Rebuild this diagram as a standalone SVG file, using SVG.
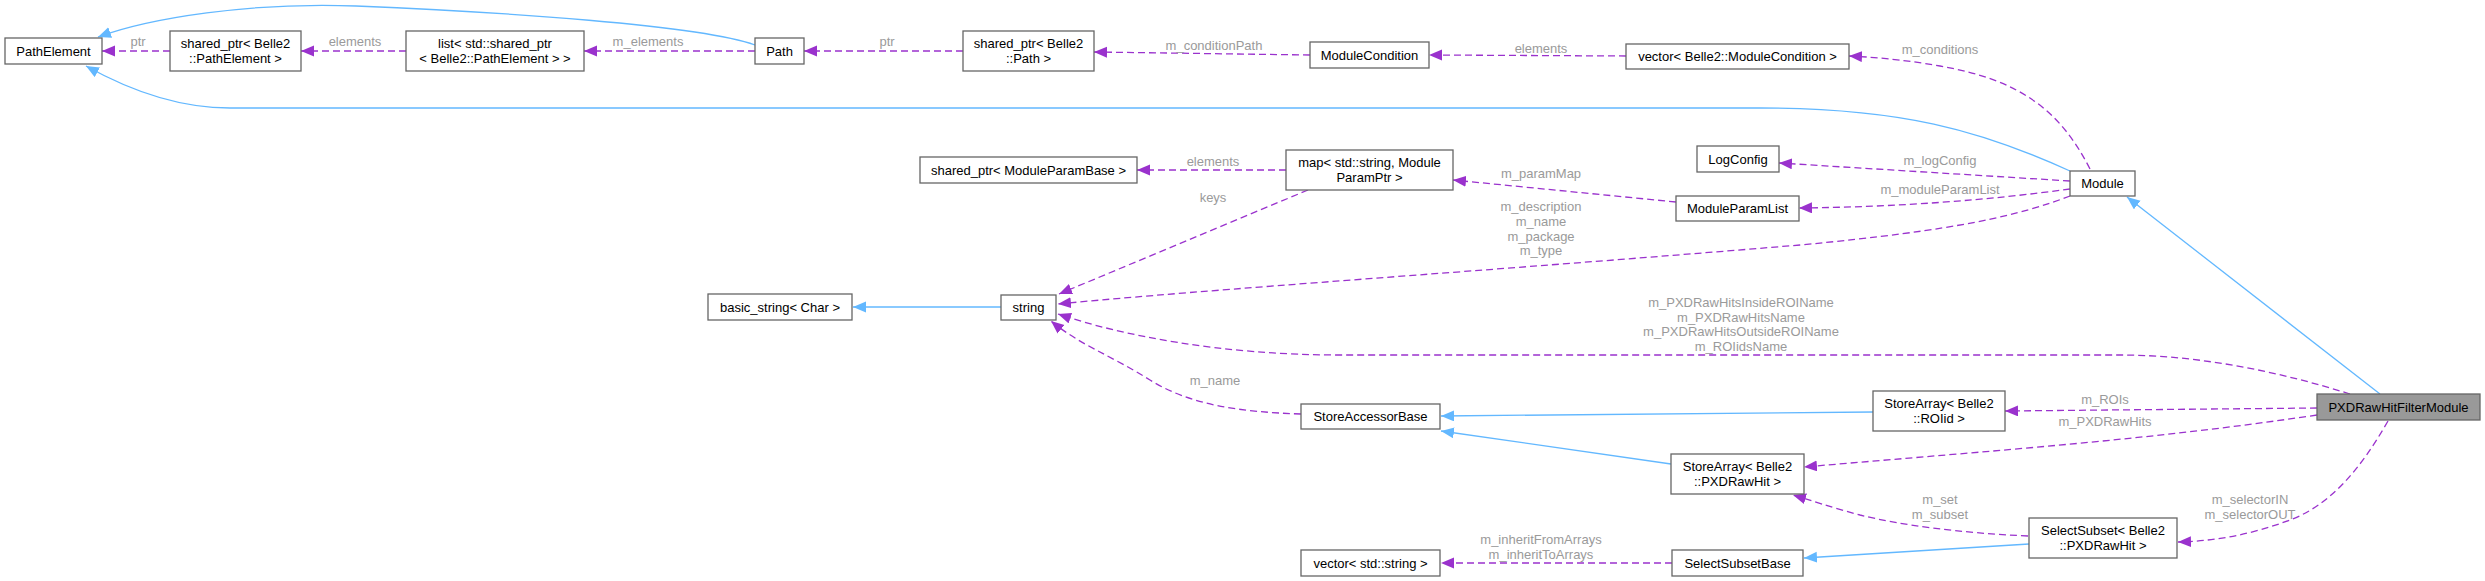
<svg xmlns="http://www.w3.org/2000/svg" width="2485" height="581" viewBox="0 0 2485 581">
<style>
.n rect{fill:#fff;stroke:#666;stroke-width:1.3}
.n text,.t{font-family:"Liberation Sans",Arial,sans-serif;font-size:13px;fill:#000;text-anchor:middle}
.l{font-family:"Liberation Sans",Arial,sans-serif;font-size:13px;fill:#9a9a9a;text-anchor:middle}
.b{fill:none;stroke:#63b8ff;stroke-width:1.3;marker-end:url(#ab)}
.p{fill:none;stroke:#9a32cd;stroke-width:1.3;stroke-dasharray:7,4;marker-end:url(#ap)}
</style>
<defs>
<marker id="ab" markerUnits="userSpaceOnUse" markerWidth="14" markerHeight="12" refX="13" refY="5.5" orient="auto"><path d="M0,0 L13,5.5 L0,11 Z" fill="#63b8ff"/></marker>
<marker id="ap" markerUnits="userSpaceOnUse" markerWidth="14" markerHeight="12" refX="13" refY="5.5" orient="auto"><path d="M0,0 L13,5.5 L0,11 Z" fill="#9a32cd"/></marker>
</defs>
<rect width="2485" height="581" fill="#fff"/>
<g id="edges">
<path class="b" d="M755,45 C700,25 500,12 356,6 C250,2 150,18 98,37"/>
<path class="b" d="M2070,171 C1980,130 1900,108 1760,108 L230,108 C170,108 120,85 86,66"/>
<path class="p" d="M170,51 L102,51"/><text class="l" x="138" y="46">ptr</text>
<path class="p" d="M406,51 L301,51"/><text class="l" x="355" y="46">elements</text>
<path class="p" d="M755,51 L584,51"/><text class="l" x="648" y="46">m_elements</text>
<path class="p" d="M963,51 L804,51"/><text class="l" x="887" y="46">ptr</text>
<path class="p" d="M1310,55 L1094,52"/><text class="l" x="1214" y="50">m_conditionPath</text>
<path class="p" d="M1626,56 L1429,55"/><text class="l" x="1541" y="53">elements</text>
<path class="p" d="M2090,169 C2060,110 2020,80 1940,66 C1900,59 1870,57 1849,56"/><text class="l" x="1940" y="54">m_conditions</text>
<path class="p" d="M2070,181 L1779,163"/><text class="l" x="1940" y="165">m_logConfig</text>
<path class="p" d="M2070,189 C1990,200 1900,207 1799,208"/><text class="l" x="1940" y="194">m_moduleParamList</text>
<path class="p" d="M1676,202 L1453,180"/><text class="l" x="1541" y="178">m_paramMap</text>
<path class="p" d="M1286,170 L1137,170"/><text class="l" x="1213" y="166">elements</text>
<path class="p" d="M1308,190 L1059,294"/><text class="l" x="1213" y="202">keys</text>
<path class="p" d="M2070,196 C2020,215 1960,230 1800,245 C1500,270 1200,290 1058,304"/>
<text class="l" x="1541" y="211">m_description</text><text class="l" x="1541" y="226">m_name</text><text class="l" x="1541" y="241">m_package</text><text class="l" x="1541" y="255">m_type</text>
<path class="p" d="M2350,394 C2280,372 2200,355 2120,355 L1340,355 C1220,355 1120,335 1058,314"/>
<text class="l" x="1741" y="307">m_PXDRawHitsInsideROIName</text><text class="l" x="1741" y="322">m_PXDRawHitsName</text><text class="l" x="1741" y="336">m_PXDRawHitsOutsideROIName</text><text class="l" x="1741" y="351">m_ROIidsName</text>
<path class="p" d="M1301,414 C1240,412 1190,405 1150,380 C1110,355 1080,345 1051,321"/><text class="l" x="1215" y="385">m_name</text>
<path class="b" d="M1873,412 L1441,416"/>
<path class="b" d="M1671,464 L1441,431"/>
<path class="p" d="M2317,408 L2005,411"/><text class="l" x="2105" y="404">m_ROIs</text>
<path class="p" d="M2317,415 C2150,440 2000,450 1804,467"/><text class="l" x="2105" y="426">m_PXDRawHits</text>
<path class="p" d="M2028,536 C1960,533 1900,525 1860,515 C1830,507 1810,500 1793,495"/><text class="l" x="1940" y="504">m_set</text><text class="l" x="1940" y="519">m_subset</text>
<path class="p" d="M2388,421 C2360,470 2330,505 2290,520 C2250,535 2215,541 2178,542"/><text class="l" x="2250" y="504">m_selectorIN</text><text class="l" x="2250" y="519">m_selectorOUT</text>
<path class="b" d="M2029,544 L1804,558"/>
<path class="p" d="M1672,563 L1441,563"/><text class="l" x="1541" y="544">m_inheritFromArrays</text><text class="l" x="1541" y="559">m_inheritToArrays</text>
<path class="b" d="M1001,307 L853,307"/>
<path class="b" d="M2380,394 L2127,197"/>
</g>
<g id="PathElement" class="n"><rect x="5" y="38" width="97" height="26"/><text x="53.5" y="56">PathElement</text></g>
<g id="SharedPtrPathElement" class="n"><rect x="170" y="31" width="131" height="40"/><text x="235.5" y="48">shared_ptr&lt; Belle2</text><text x="235.5" y="63">::PathElement &gt;</text></g>
<g id="ListSharedPtr" class="n"><rect x="406" y="31" width="178" height="40"/><text x="495" y="48">list&lt; std::shared_ptr</text><text x="495" y="63">&lt; Belle2::PathElement &gt; &gt;</text></g>
<g id="Path" class="n"><rect x="755" y="38" width="49" height="26"/><text x="779.5" y="56">Path</text></g>
<g id="SharedPtrPath" class="n"><rect x="963" y="31" width="131" height="40"/><text x="1028.5" y="48">shared_ptr&lt; Belle2</text><text x="1028.5" y="63">::Path &gt;</text></g>
<g id="ModuleCondition" class="n"><rect x="1310" y="42" width="119" height="26"/><text x="1369.5" y="60">ModuleCondition</text></g>
<g id="VectorModuleCondition" class="n"><rect x="1626" y="44" width="223" height="25"/><text x="1737.5" y="61">vector&lt; Belle2::ModuleCondition &gt;</text></g>
<g id="LogConfig" class="n"><rect x="1697" y="146" width="82" height="26"/><text x="1738" y="164">LogConfig</text></g>
<g id="ModuleParamList" class="n"><rect x="1676" y="196" width="123" height="25"/><text x="1737.5" y="213">ModuleParamList</text></g>
<g id="MapParam" class="n"><rect x="1286" y="150" width="167" height="40"/><text x="1369.5" y="167">map&lt; std::string, Module</text><text x="1369.5" y="182">ParamPtr &gt;</text></g>
<g id="SharedPtrModuleParamBase" class="n"><rect x="920" y="157" width="217" height="26"/><text x="1028.5" y="175">shared_ptr&lt; ModuleParamBase &gt;</text></g>
<g id="Module" class="n"><rect x="2070" y="171" width="65" height="25"/><text x="2102.5" y="188">Module</text></g>
<g id="string" class="n"><rect x="1001" y="295" width="55" height="25"/><text x="1028.5" y="312">string</text></g>
<g id="BasicString" class="n"><rect x="708" y="294" width="144" height="26"/><text x="780" y="312">basic_string&lt; Char &gt;</text></g>
<g id="StoreAccessorBase" class="n"><rect x="1301" y="404" width="139" height="25"/><text x="1370.5" y="421">StoreAccessorBase</text></g>
<g id="VectorString" class="n"><rect x="1301" y="550" width="139" height="26"/><text x="1370.5" y="568">vector&lt; std::string &gt;</text></g>
<g id="SelectSubsetBase" class="n"><rect x="1672" y="550" width="131" height="26"/><text x="1737.5" y="568">SelectSubsetBase</text></g>
<g id="StoreArrayPXDRawHit" class="n"><rect x="1671" y="454" width="133" height="40"/><text x="1737.5" y="471">StoreArray&lt; Belle2</text><text x="1737.5" y="486">::PXDRawHit &gt;</text></g>
<g id="StoreArrayROIid" class="n"><rect x="1873" y="391" width="132" height="40"/><text x="1939" y="408">StoreArray&lt; Belle2</text><text x="1939" y="423">::ROIid &gt;</text></g>
<g id="SelectSubsetPXDRawHit" class="n"><rect x="2029" y="518" width="148" height="40"/><text x="2103" y="535">SelectSubset&lt; Belle2</text><text x="2103" y="550">::PXDRawHit &gt;</text></g>
<g id="PXDRawHitFilterModule" class="n"><rect x="2317" y="394" width="163" height="26" style="fill:#999"/><text x="2398.5" y="412">PXDRawHitFilterModule</text></g>
</svg>
